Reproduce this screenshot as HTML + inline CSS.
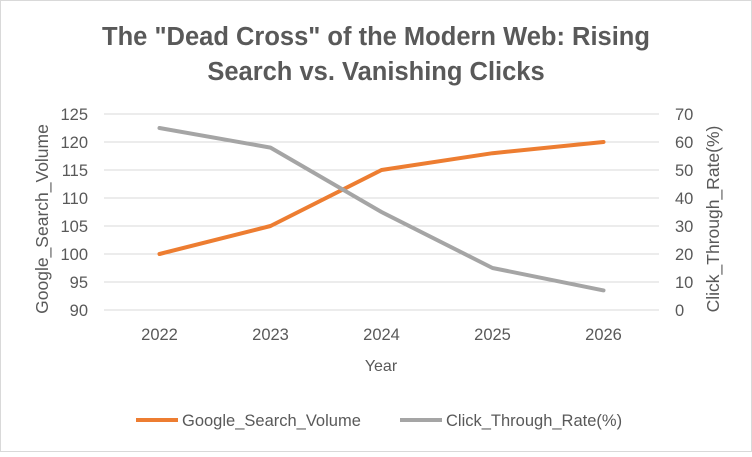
<!DOCTYPE html>
<html><head><meta charset="utf-8"><style>
body{margin:0;background:#fff;font-family:"Liberation Sans",sans-serif}
svg text{font-family:"Liberation Sans",sans-serif}
</style></head><body>
<svg id="c" width="752" height="452" viewBox="0 0 752 452" xmlns="http://www.w3.org/2000/svg">
<rect x="0.5" y="0.5" width="751" height="451" fill="#fff" stroke="#d9d9d9"/>
<text x="376" y="45" text-anchor="middle" font-size="25.5" font-weight="bold" fill="#595959">The "Dead Cross" of the Modern Web: Rising</text>
<text x="376" y="80" text-anchor="middle" font-size="25.5" font-weight="bold" fill="#595959">Search vs. Vanishing Clicks</text>
<g id="grid"></g><g id="axes"></g><g id="series"></g>
<text transform="translate(48,219) rotate(-90)" text-anchor="middle" font-size="17.5" fill="#595959">Google_Search_Volume</text>
<text transform="translate(719,219) rotate(-90)" text-anchor="middle" font-size="17.5" fill="#595959">Click_Through_Rate(%)</text>
<text x="381" y="371" text-anchor="middle" font-size="16" fill="#595959">Year</text>
<g>
<line x1="136" y1="420" x2="178" y2="420" stroke="#ed7d31" stroke-width="4"/>
<text x="182" y="426" font-size="16.5" fill="#595959">Google_Search_Volume</text>
<line x1="400" y1="420" x2="442" y2="420" stroke="#a5a5a5" stroke-width="4"/>
<text x="446" y="426" font-size="16.5" fill="#595959">Click_Through_Rate(%)</text>
</g>
</svg>
<script>
const years=["2022","2023","2024","2025","2026"];
const searchVolume=[100,105,115,118,120];
const ctr=[65,58,35,15,7];
const leftTicks=[90,95,100,105,110,115,120,125];
const rightTicks=[0,10,20,30,40,50,60,70];
const NS="http://www.w3.org/2000/svg";
const X0=104,X1=659,YT=114,YB=310;
const xs=i=>X0+(X1-X0)/years.length*(i+0.5);
const yl=v=>YB-(v-90)/(125-90)*(YB-YT);
const yr=v=>YB-v/70*(YB-YT);
function mk(tag,attrs,parent,txt){const e=document.createElementNS(NS,tag);for(const k in attrs)e.setAttribute(k,attrs[k]);if(txt!==undefined)e.textContent=txt;document.getElementById(parent).appendChild(e);return e;}
leftTicks.forEach(v=>{
 const g=mk('line',{x1:X0,x2:X1,y1:yl(v),y2:yl(v),stroke:'#d9d9d9','stroke-width':1},'grid');
 
 
 const t=mk('text',{x:88,y:yl(v)+6,'text-anchor':'end','font-size':16.5,fill:'#595959'},'axes',v);
 
 
});
rightTicks.forEach(v=>{
 const t=mk('text',{x:675,y:yr(v)+6,'font-size':16.5,fill:'#595959'},'axes',v);
 
 
});
years.forEach((y,i)=>{
 const t=mk('text',{x:xs(i),y:340,'text-anchor':'middle','font-size':16.5,fill:'#595959'},'axes',y);
 
 
});
const p1=mk('polyline',{points:searchVolume.map((v,i)=>xs(i)+','+yl(v)).join(' '),fill:'none',stroke:'#ed7d31','stroke-width':4,'stroke-linecap':'round','stroke-linejoin':'round'},'series');


const p2=mk('polyline',{points:ctr.map((v,i)=>xs(i)+','+yr(v)).join(' '),fill:'none',stroke:'#a5a5a5','stroke-width':4,'stroke-linecap':'round','stroke-linejoin':'round'},'series');


</script>
</body></html>
